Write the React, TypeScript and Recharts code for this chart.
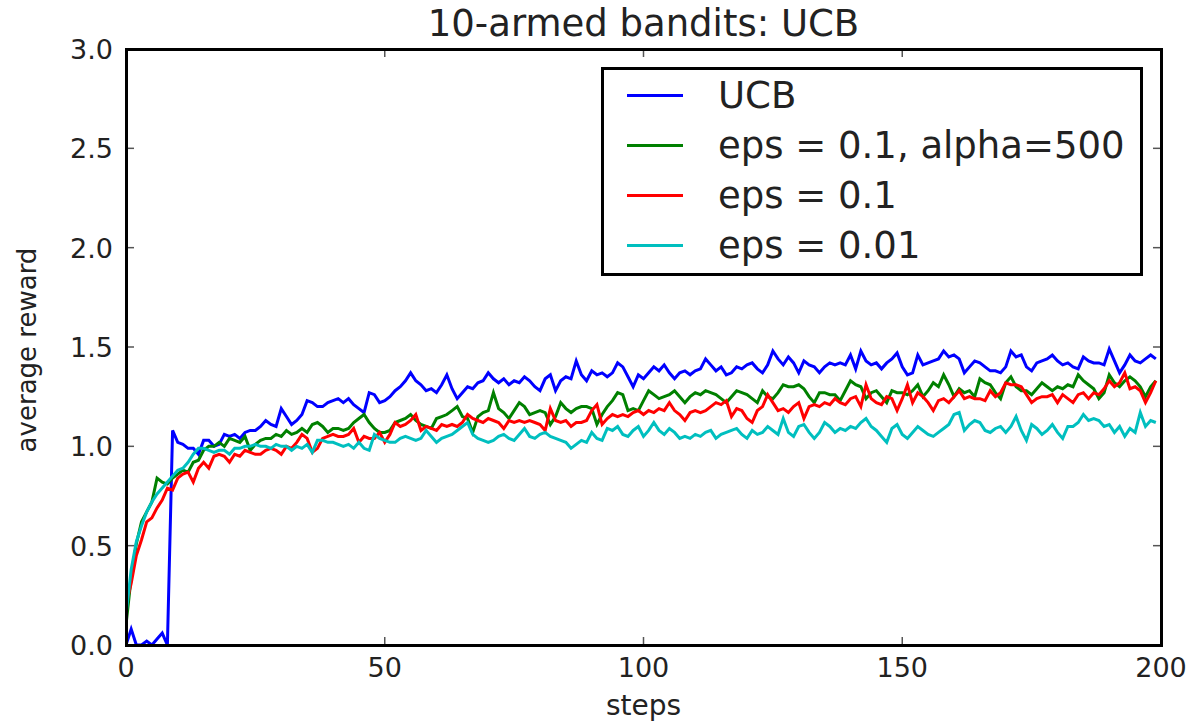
import { LineChart, Line, XAxis, YAxis, Label } from 'recharts';

const ucb = [
  0, 0.08, 0, 0, 0.02, 0, 0.03, 0.06, 0, 1.08,
  1.02, 1.01, 0.99, 0.99, 0.96, 1.03, 1.03, 1.0, 1.01, 1.06,
  1.05, 1.06, 1.04, 1.07, 1.08, 1.08, 1.1, 1.13, 1.11, 1.1,
  1.19, 1.15, 1.11, 1.13, 1.16, 1.23, 1.22, 1.2, 1.2, 1.22,
  1.23, 1.24, 1.22, 1.24, 1.21, 1.19, 1.17, 1.27, 1.26, 1.22,
  1.23, 1.25, 1.28, 1.3, 1.33, 1.37, 1.33, 1.31, 1.28, 1.29,
  1.27, 1.31, 1.36, 1.29, 1.24, 1.27, 1.3, 1.29, 1.32, 1.33,
  1.37, 1.34, 1.32, 1.34, 1.31, 1.33, 1.32, 1.35, 1.33, 1.3,
  1.28, 1.34, 1.36, 1.28, 1.33, 1.35, 1.34, 1.43, 1.36, 1.33,
  1.38, 1.36, 1.37, 1.35, 1.37, 1.42, 1.4, 1.35, 1.3, 1.36,
  1.34, 1.37, 1.4, 1.38, 1.41, 1.37, 1.34, 1.37, 1.38, 1.36,
  1.38, 1.39, 1.44, 1.41, 1.38, 1.4, 1.36, 1.37, 1.4, 1.39,
  1.41, 1.42, 1.39, 1.37, 1.41, 1.48, 1.44, 1.41, 1.45, 1.42,
  1.37, 1.43, 1.41, 1.4, 1.37, 1.4, 1.42, 1.41, 1.42, 1.41,
  1.46, 1.39, 1.48, 1.43, 1.41, 1.42, 1.39, 1.42, 1.44, 1.47,
  1.4, 1.36, 1.37, 1.46, 1.41, 1.42, 1.43, 1.44, 1.48, 1.45,
  1.46, 1.44, 1.37, 1.4, 1.43, 1.42, 1.4, 1.38, 1.38, 1.37,
  1.4, 1.48, 1.45, 1.46, 1.4, 1.38, 1.42, 1.43, 1.44, 1.46,
  1.43, 1.41, 1.42, 1.4, 1.39, 1.45, 1.43, 1.42, 1.42, 1.41,
  1.49, 1.43, 1.37, 1.41, 1.46, 1.43, 1.42, 1.44, 1.46, 1.44,
];

const epsAlpha = [
  0.1, 0.34, 0.51, 0.62, 0.67, 0.72, 0.84, 0.82, 0.81, 0.84,
  0.86, 0.88, 0.87, 0.92, 0.93, 0.98, 1.0, 1.0, 1.02, 1.0,
  1.04, 1.03, 1.02, 1.05, 0.98, 1.01, 1.03, 1.04, 1.04, 1.06,
  1.05, 1.08, 1.06, 1.07, 1.09, 1.07, 1.11, 1.12, 1.1, 1.07,
  1.09, 1.09, 1.08, 1.09, 1.12, 1.14, 1.16, 1.12, 1.09, 1.07,
  1.07, 1.08, 1.12, 1.13, 1.14, 1.16, 1.13, 1.11, 1.1, 1.09,
  1.14, 1.15, 1.16, 1.18, 1.2, 1.15, 1.14, 1.07, 1.15, 1.17,
  1.18, 1.27, 1.19, 1.17, 1.14, 1.18, 1.22, 1.2, 1.16, 1.17,
  1.18, 1.17, 1.11, 1.15, 1.22, 1.19, 1.17, 1.19, 1.2, 1.2,
  1.19, 1.11, 1.16, 1.2, 1.23, 1.27, 1.26, 1.18, 1.19, 1.18,
  1.23, 1.28, 1.26, 1.24, 1.25, 1.26, 1.28, 1.25, 1.22, 1.25,
  1.27, 1.26, 1.28, 1.27, 1.26, 1.24, 1.22, 1.25, 1.28, 1.27,
  1.26, 1.24, 1.22, 1.28, 1.25, 1.24, 1.27, 1.31, 1.3, 1.3,
  1.31, 1.29, 1.25, 1.22, 1.27, 1.27, 1.26, 1.26, 1.23, 1.28,
  1.33, 1.31, 1.3, 1.24, 1.27, 1.28, 1.25, 1.22, 1.28, 1.27,
  1.27, 1.26, 1.28, 1.31, 1.25, 1.28, 1.32, 1.3, 1.36, 1.31,
  1.25, 1.29, 1.27, 1.28, 1.25, 1.34, 1.32, 1.31, 1.27, 1.24,
  1.32, 1.35, 1.3, 1.28, 1.28, 1.26, 1.29, 1.32, 1.3, 1.28,
  1.3, 1.29, 1.31, 1.3, 1.36, 1.33, 1.31, 1.29, 1.24, 1.27,
  1.36, 1.32, 1.3, 1.33, 1.35, 1.33, 1.3, 1.25, 1.3, 1.33,
];

const eps01 = [
  0.2, 0.31, 0.45, 0.53, 0.62, 0.64, 0.69, 0.73, 0.79, 0.78,
  0.84, 0.86, 0.87, 0.82, 0.89, 0.92, 0.89, 0.95, 0.96, 0.95,
  0.92, 0.96, 0.95, 0.98, 0.97, 0.96, 0.96, 0.98, 0.99, 0.98,
  0.96, 1.0, 0.99, 1.02, 1.06, 1.04, 0.97, 0.99, 1.04, 1.05,
  1.06, 1.05, 1.05, 1.06, 1.09, 1.02, 1.05, 1.04, 1.04, 1.07,
  1.02, 1.06, 1.12, 1.1, 1.11, 1.13, 1.16, 1.08, 1.1, 1.09,
  1.08, 1.11, 1.1, 1.11, 1.1, 1.12, 1.16, 1.14, 1.13, 1.12,
  1.14, 1.13, 1.12, 1.09, 1.13, 1.12, 1.13, 1.12, 1.13, 1.12,
  1.11, 1.08, 1.19, 1.13, 1.12, 1.13, 1.1, 1.12, 1.12, 1.13,
  1.18, 1.21, 1.11, 1.14, 1.16, 1.15, 1.16, 1.15, 1.17, 1.18,
  1.16, 1.18, 1.17, 1.19, 1.18, 1.22, 1.18, 1.16, 1.13, 1.17,
  1.18, 1.17, 1.18, 1.2, 1.22, 1.21, 1.23, 1.15, 1.19, 1.18,
  1.14, 1.12, 1.18, 1.2, 1.26, 1.22, 1.18, 1.19, 1.17, 1.2,
  1.22, 1.14, 1.2, 1.21, 1.2, 1.22, 1.21, 1.24, 1.22, 1.21,
  1.24, 1.25, 1.2, 1.31, 1.24, 1.22, 1.21, 1.25, 1.24, 1.18,
  1.24, 1.31, 1.22, 1.27, 1.25, 1.22, 1.18, 1.23, 1.24, 1.22,
  1.25, 1.28, 1.24, 1.25, 1.24, 1.24, 1.23, 1.28, 1.25, 1.27,
  1.32, 1.31, 1.31, 1.3, 1.26, 1.22, 1.24, 1.25, 1.25, 1.26,
  1.22, 1.26, 1.24, 1.22, 1.26, 1.27, 1.24, 1.27, 1.26, 1.29,
  1.33, 1.3, 1.32, 1.37, 1.29, 1.3, 1.28, 1.22, 1.27, 1.33,
];

const eps001 = [
  0.15, 0.38, 0.52, 0.6, 0.67, 0.72, 0.76, 0.79, 0.82, 0.85,
  0.88, 0.89, 0.92, 0.96, 0.99, 0.99, 0.98, 0.97, 0.98, 0.98,
  0.96, 0.99, 0.99, 1.0, 1.0, 1.01, 1.0, 1.0, 0.99, 1.01,
  1.0, 1.0, 0.98, 1.0, 0.99, 1.01, 0.97, 1.03, 1.03, 1.02,
  1.02, 1.01, 1.0, 1.01, 0.99, 1.02, 0.99, 0.98, 1.06, 1.04,
  1.03, 1.02, 1.02, 1.04, 1.05, 1.04, 1.03, 1.04, 1.08, 1.05,
  1.02, 1.04, 1.05, 1.06, 1.08, 1.1, 1.12, 1.06, 1.04, 1.03,
  1.02, 1.03, 1.05, 1.06, 1.04, 1.03, 1.06, 1.09, 1.05, 1.04,
  1.06, 1.07, 1.05, 1.04, 1.03, 1.02, 0.99, 1.01, 1.03, 1.02,
  1.07, 1.04, 1.03, 1.09, 1.08, 1.1, 1.06, 1.05, 1.08, 1.1,
  1.05, 1.08, 1.12, 1.08, 1.06, 1.09, 1.07, 1.04, 1.05, 1.04,
  1.06, 1.05, 1.07, 1.08, 1.04, 1.06, 1.07, 1.08, 1.09, 1.06,
  1.04, 1.08, 1.06, 1.07, 1.1, 1.08, 1.06, 1.14, 1.07, 1.05,
  1.1, 1.11, 1.07, 1.04, 1.07, 1.12, 1.1, 1.07, 1.09, 1.08,
  1.1, 1.09, 1.12, 1.14, 1.1, 1.08, 1.05, 1.02, 1.09, 1.11,
  1.06, 1.04, 1.07, 1.1, 1.08, 1.06, 1.05, 1.07, 1.09, 1.11,
  1.16, 1.17, 1.08, 1.11, 1.13, 1.12, 1.08, 1.07, 1.09, 1.1,
  1.07, 1.1, 1.15, 1.08, 1.03, 1.11, 1.09, 1.06, 1.08, 1.11,
  1.07, 1.04, 1.1, 1.1, 1.12, 1.16, 1.13, 1.14, 1.13, 1.1,
  1.11, 1.07, 1.1, 1.05, 1.09, 1.07, 1.17, 1.1, 1.13, 1.12,
];

const xTicks = [0, 50, 100, 150, 200];
const yTicks = [0, 0.5, 1.0, 1.5, 2.0, 2.5, 3.0];

const series = [
  { key: 'ucb', name: 'UCB', color: '#0000ff' },
  { key: 'epsAlpha', name: 'eps = 0.1, alpha=500', color: '#008000' },
  { key: 'eps01', name: 'eps = 0.1', color: '#ff0000' },
  { key: 'eps001', name: 'eps = 0.01', color: '#00bfbf' },
];

const data = ucb.map((v, i) => ({
  step: i,
  ucb: v,
  epsAlpha: epsAlpha[i],
  eps01: eps01[i],
  eps001: eps001[i],
}));

const FONT = '"DejaVu Sans", Verdana, sans-serif';
const TICK_LEN = 8;

// plot box (follows from the chart margins and axis sizes below)
const PLOT_LEFT = 126;
const PLOT_RIGHT = 1161;
const PLOT_TOP = 49;
const PLOT_BOTTOM = 645;
const FRAME = 3;

// matplotlib-style ticks: inward, on both opposite sides
const BottomTick = (props: any) => {
  const { x, payload } = props;
  return (
    <g>
      <line x1={x} y1={PLOT_BOTTOM} x2={x} y2={PLOT_BOTTOM - TICK_LEN} stroke="#555" strokeWidth={1.5} />
      <line x1={x} y1={PLOT_TOP} x2={x} y2={PLOT_TOP + TICK_LEN} stroke="#555" strokeWidth={1.5} />
      <text x={x} y={PLOT_BOTTOM + 32} textAnchor="middle" fontSize={27} fill="#222" fontFamily={FONT}>
        {payload.value}
      </text>
    </g>
  );
};

const LeftTick = (props: any) => {
  const { y, payload } = props;
  return (
    <g>
      <line x1={PLOT_LEFT} y1={y} x2={PLOT_LEFT + TICK_LEN} y2={y} stroke="#555" strokeWidth={1.5} />
      <line x1={PLOT_RIGHT} y1={y} x2={PLOT_RIGHT - TICK_LEN} y2={y} stroke="#555" strokeWidth={1.5} />
      <text x={PLOT_LEFT - 13} y={y + 10} textAnchor="end" fontSize={27} fill="#222" fontFamily={FONT}>
        {Number(payload.value).toFixed(1)}
      </text>
    </g>
  );
};

export default function App() {
  return (
    <div style={{ position: 'absolute', left: 0, top: 0, width: 1192, height: 721, background: '#fff' }}>
      <div
        style={{
          position: 'absolute',
          left: 126,
          width: 1035,
          top: 3,
          textAlign: 'center',
          fontFamily: FONT,
          fontSize: 37,
          color: '#222',
          lineHeight: '42px',
        }}
      >
        10-armed bandits: UCB
      </div>
      <LineChart
        width={1192}
        height={721}
        data={data}
        margin={{ top: 49, right: 31, bottom: 0, left: 0 }}
      >
        <XAxis
          dataKey="step"
          type="number"
          domain={[0, 200]}
          ticks={xTicks}
          height={76}
          tickSize={0}
          tickMargin={0}
          tickLine={false}
          tick={<BottomTick />}
          axisLine={false}
          allowDataOverflow
        >
          <Label
            content={(p: any) => {
              const vb = p.viewBox;
              return (
                <text x={vb.x + vb.width / 2} y={715} textAnchor="middle" fontSize={28} fill="#222" fontFamily={FONT}>
                  steps
                </text>
              );
            }}
          />
        </XAxis>
        <YAxis
          type="number"
          domain={[0, 3]}
          ticks={yTicks}
          width={126}
          tickSize={0}
          tickMargin={0}
          tickLine={false}
          tick={<LeftTick />}
          axisLine={false}
          allowDataOverflow
        >
          <Label
            content={(p: any) => {
              const vb = p.viewBox;
              const cy = vb.y + vb.height / 2 + 3;
              return (
                <text
                  x={36}
                  y={cy}
                  transform={`rotate(-90 36 ${cy})`}
                  textAnchor="middle"
                  fontSize={26}
                  fill="#222"
                  fontFamily={FONT}
                >
                  average reward
                </text>
              );
            }}
          />
        </YAxis>
        {series.map((s) => (
          <Line
            key={s.key}
            type="linear"
            dataKey={s.key}
            name={s.name}
            stroke={s.color}
            strokeWidth={3}
            dot={false}
            isAnimationActive={false}
          />
        ))}
      </LineChart>
      {/* axes frame (spines) */}
      <div
        style={{
          position: 'absolute',
          left: PLOT_LEFT - FRAME / 2,
          top: PLOT_TOP - FRAME / 2,
          width: PLOT_RIGHT - PLOT_LEFT + FRAME,
          height: PLOT_BOTTOM - PLOT_TOP + FRAME,
          border: `${FRAME}px solid #000`,
          boxSizing: 'border-box',
          pointerEvents: 'none',
        }}
      />
      <div
        style={{
          position: 'absolute',
          left: 601,
          top: 67,
          width: 542,
          height: 209,
          border: '3px solid #000',
          boxSizing: 'border-box',
          background: '#fff',
          fontFamily: FONT,
        }}
      >
        {series.map((s, i) => (
          <div key={s.key} style={{ position: 'absolute', left: 0, top: 4 + i * 50, height: 44, width: '100%' }}>
            <div
              style={{
                position: 'absolute',
                left: 23,
                top: 20,
                width: 56,
                height: 3,
                background: s.color,
              }}
            />
            <div
              style={{
                position: 'absolute',
                left: 114,
                top: 0,
                fontSize: 37,
                lineHeight: '44px',
                color: '#222',
                whiteSpace: 'nowrap',
              }}
            >
              {s.name}
            </div>
          </div>
        ))}
      </div>
    </div>
  );
}
